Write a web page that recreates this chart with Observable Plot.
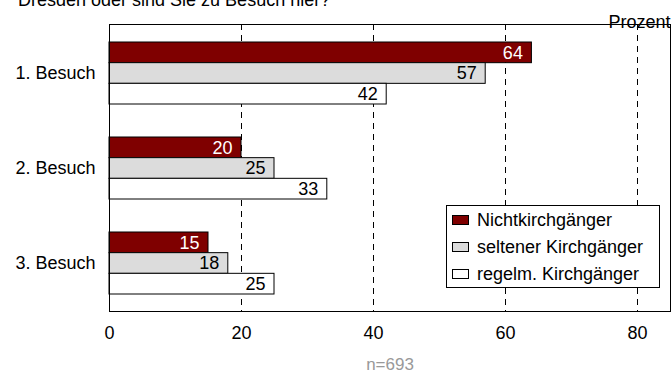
<!DOCTYPE html>
<html>
<head>
<meta charset="utf-8">
<script src="https://cdn.jsdelivr.net/npm/d3@7"></script>
<script src="https://cdn.jsdelivr.net/npm/@observablehq/plot@0.6"></script>
<style>
  html, body { margin: 0; padding: 0; background: #fff; overflow: hidden; }
  #wrap { position: relative; width: 672px; height: 380px; overflow: hidden; font-family: "Liberation Sans", Arial, sans-serif; }
  #title { position: absolute; left: 18px; top: -10px; font-size: 18px; color: #000; white-space: nowrap; }
  #legend { position: absolute; left: 446px; top: 205px; width: 212px; height: 81px; border: 1px solid #000; background: #fff; font-size: 18px; }
  .row { position: absolute; left: 5px; height: 20px; display: flex; align-items: center; white-space: nowrap; }
  .sw { width: 17px; height: 10px; border: 1px solid #000; margin-right: 8px; box-sizing: border-box; }
  #chart { position: absolute; left: 0; top: 0; }
  #chart svg { display: block; }
</style>
</head>
<body>
<div id="wrap">
  <div id="chart"></div>
  <div id="title">Dresden oder sind Sie zu Besuch hier?</div>
  <div id="legend"></div>
</div>
<script>
const groups = ["1. Besuch", "2. Besuch", "3. Besuch"];
const series = ["Nichtkirchgänger", "seltener Kirchgänger", "regelm. Kirchgänger"];
const colors = ["#7f0000", "#dcdcdc", "#ffffff"];
const nicht = [64, 20, 15];
const selten = [57, 25, 18];
const regelm = [42, 33, 25];
const xTicks = [0, 20, 40, 60, 80];
const gridTicks = [20, 40, 60, 80];
const axisTitle = "Prozent";
const caption = "n=693";

const valuesBySeries = [nicht, selten, regelm];
const data = [];
groups.forEach((g, gi) => {
  series.forEach((s, si) => {
    data.push({group: g, series: s, value: valuesBySeries[si][gi]});
  });
});

const W = 672, H = 380, mT = 24, mB = 69, mL = 109, mR = 2;
const padIn = 0.35, padOut = 0.18;
const step = (H - mT - mB) / (groups.length - padIn + 2 * padOut);
const bw = step * (1 - padIn);
const sub = bw / series.length;
const fontSize = 18;

const barMarks = [];
const textMarks = [];
series.forEach((s, si) => {
  const rows = data.filter(d => d.series === s);
  barMarks.push(Plot.barX(rows, {
    y: "group", x: "value", fill: "series", stroke: "#000", strokeWidth: 1,
    insetTop: si * sub, insetBottom: (series.length - 1 - si) * sub
  }));
  textMarks.push(Plot.text(rows, {
    y: "group", x: "value", text: d => String(d.value), textAnchor: "end", dx: -9,
    dy: (si - (series.length - 1) / 2) * sub,
    fill: si === 0 ? "#fff" : "#000", fontSize: fontSize
  }));
});

const chart = Plot.plot({
  width: W,
  height: H,
  marginLeft: mL,
  marginRight: mR,
  marginTop: mT,
  marginBottom: mB,
  style: {fontFamily: "'Liberation Sans', Arial, sans-serif", fontSize: fontSize + "px", color: "#000", background: "transparent"},
  x: {domain: [0, 85]},
  y: {domain: groups, paddingInner: padIn, paddingOuter: padOut},
  color: {domain: series, range: colors},
  marks: [
    Plot.ruleX(gridTicks, {stroke: "#000", strokeDasharray: "6,5", strokeWidth: 1}),
    ...barMarks,
    ...textMarks,
    Plot.axisY({anchor: "left", tickSize: 0, tickPadding: 14, label: null, fontSize: fontSize}),
    Plot.axisX(xTicks, {anchor: "bottom", tickSize: 0, tickPadding: 15, label: null, fontSize: fontSize}),
    Plot.frame({stroke: "#000", strokeWidth: 1}),
    Plot.text([axisTitle], {frameAnchor: "top-right", textAnchor: "end", dy: -9, fill: "#000", fontSize: fontSize}),
    Plot.text([caption], {frameAnchor: "bottom", dy: 58, fill: "#999", fontSize: 17})
  ]
});
document.getElementById("chart").appendChild(chart);

const legend = document.getElementById("legend");
series.forEach((s, i) => {
  const row = document.createElement("div");
  row.className = "row";
  row.style.top = (4 + i * 27) + "px";
  const sw = document.createElement("div");
  sw.className = "sw";
  sw.style.background = colors[i];
  const lab = document.createElement("span");
  lab.textContent = s;
  row.appendChild(sw);
  row.appendChild(lab);
  legend.appendChild(row);
});
</script>
</body>
</html>
